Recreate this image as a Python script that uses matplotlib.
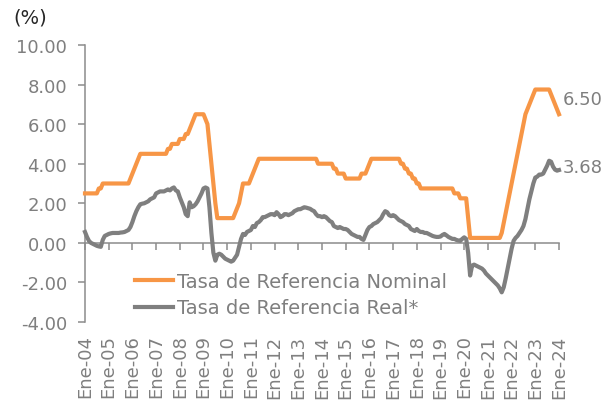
import matplotlib
matplotlib.use("Agg")
import matplotlib.pyplot as plt
import numpy as np

plt.rcParams['font.family'] = ['DejaVu Sans']

# Monthly values, Jan-2004 .. Jan-2024
nominal = [
    2.50, 2.50, 2.50, 2.50, 2.50, 2.50, 2.50, 2.75, 2.75, 3.00, 3.00, 3.00,  # 2004
    3.00, 3.00, 3.00, 3.00, 3.00, 3.00, 3.00, 3.00, 3.00, 3.00, 3.00, 3.25,  # 2005
    3.50, 3.75, 4.00, 4.25, 4.50, 4.50, 4.50, 4.50, 4.50, 4.50, 4.50, 4.50,  # 2006
    4.50, 4.50, 4.50, 4.50, 4.50, 4.50, 4.75, 4.75, 5.00, 5.00, 5.00, 5.00,  # 2007
    5.25, 5.25, 5.25, 5.50, 5.50, 5.75, 6.00, 6.25, 6.50, 6.50, 6.50, 6.50,  # 2008
    6.50, 6.25, 6.00, 5.00, 4.00, 3.00, 2.00, 1.25, 1.25, 1.25, 1.25, 1.25,  # 2009
    1.25, 1.25, 1.25, 1.25, 1.50, 1.75, 2.00, 2.50, 3.00, 3.00, 3.00, 3.00,  # 2010
    3.25, 3.50, 3.75, 4.00, 4.25, 4.25, 4.25, 4.25, 4.25, 4.25, 4.25, 4.25,  # 2011
    4.25, 4.25, 4.25, 4.25, 4.25, 4.25, 4.25, 4.25, 4.25, 4.25, 4.25, 4.25,  # 2012
    4.25, 4.25, 4.25, 4.25, 4.25, 4.25, 4.25, 4.25, 4.25, 4.25, 4.00, 4.00,  # 2013
    4.00, 4.00, 4.00, 4.00, 4.00, 4.00, 3.75, 3.75, 3.50, 3.50, 3.50, 3.50,  # 2014
    3.25, 3.25, 3.25, 3.25, 3.25, 3.25, 3.25, 3.25, 3.50, 3.50, 3.50, 3.75,  # 2015
    4.00, 4.25, 4.25, 4.25, 4.25, 4.25, 4.25, 4.25, 4.25, 4.25, 4.25, 4.25,  # 2016
    4.25, 4.25, 4.25, 4.25, 4.00, 4.00, 3.75, 3.75, 3.50, 3.50, 3.25, 3.25,  # 2017
    3.00, 3.00, 2.75, 2.75, 2.75, 2.75, 2.75, 2.75, 2.75, 2.75, 2.75, 2.75,  # 2018
    2.75, 2.75, 2.75, 2.75, 2.75, 2.75, 2.75, 2.50, 2.50, 2.50, 2.25, 2.25,  # 2019
    2.25, 2.25, 1.25, 0.25, 0.25, 0.25, 0.25, 0.25, 0.25, 0.25, 0.25, 0.25,  # 2020
    0.25, 0.25, 0.25, 0.25, 0.25, 0.25, 0.25, 0.50, 1.00, 1.50, 2.00, 2.50,  # 2021
    3.00, 3.50, 4.00, 4.50, 5.00, 5.50, 6.00, 6.50, 6.75, 7.00, 7.25, 7.50,  # 2022
    7.75, 7.75, 7.75, 7.75, 7.75, 7.75, 7.75, 7.75, 7.50, 7.25, 7.00, 6.75,  # 2023
    6.50,                                                                      # 2024
]

real = [
    0.55, 0.30, 0.10, 0.00, -0.05, -0.10, -0.15, -0.18, -0.20, 0.15, 0.35, 0.40,  # 2004
    0.45, 0.48, 0.50, 0.50, 0.50, 0.50, 0.52, 0.53, 0.55, 0.60, 0.65, 0.80,      # 2005
    1.05, 1.35, 1.60, 1.80, 1.95, 1.98, 2.00, 2.05, 2.10, 2.20, 2.25, 2.30,      # 2006
    2.50, 2.55, 2.60, 2.60, 2.60, 2.65, 2.70, 2.65, 2.75, 2.80, 2.65, 2.60,      # 2007
    2.30, 2.05, 1.80, 1.45, 1.35, 2.05, 1.80, 1.85, 1.95, 2.10, 2.30, 2.50,      # 2008
    2.75, 2.80, 2.75, 1.80, 0.50, -0.50, -0.90, -0.60, -0.55, -0.60, -0.70, -0.80,  # 2009
    -0.85, -0.90, -0.95, -0.90, -0.75, -0.60, -0.20, 0.20, 0.45, 0.40, 0.55, 0.60,  # 2010
    0.65, 0.85, 0.80, 1.00, 1.05, 1.15, 1.30, 1.30, 1.35, 1.40, 1.45, 1.45,      # 2011
    1.40, 1.55, 1.45, 1.30, 1.35, 1.45, 1.45, 1.40, 1.45, 1.50, 1.60, 1.65,      # 2012
    1.70, 1.70, 1.75, 1.80, 1.78, 1.75, 1.72, 1.65, 1.60, 1.45, 1.35, 1.35,      # 2013
    1.30, 1.35, 1.30, 1.20, 1.10, 1.05, 0.85, 0.80, 0.75, 0.80, 0.75, 0.70,      # 2014
    0.70, 0.65, 0.55, 0.45, 0.40, 0.35, 0.30, 0.30, 0.20, 0.15, 0.40, 0.65,      # 2015
    0.80, 0.85, 0.95, 1.00, 1.05, 1.15, 1.25, 1.45, 1.60, 1.55, 1.40, 1.35,      # 2016
    1.40, 1.35, 1.25, 1.15, 1.10, 1.05, 0.95, 0.90, 0.85, 0.70, 0.65, 0.60,      # 2017
    0.70, 0.60, 0.55, 0.55, 0.50, 0.50, 0.45, 0.40, 0.35, 0.32, 0.30, 0.30,      # 2018
    0.32, 0.40, 0.45, 0.38, 0.30, 0.25, 0.20, 0.20, 0.15, 0.12, 0.10, 0.20,      # 2019
    0.28, 0.20, -0.50, -1.65, -1.15, -1.10, -1.15, -1.20, -1.25, -1.30, -1.40, -1.55,  # 2020
    -1.65, -1.75, -1.85, -1.95, -2.05, -2.15, -2.30, -2.50, -2.25, -1.80, -1.30, -0.80,  # 2021
    -0.30, 0.10, 0.25, 0.35, 0.50, 0.65, 0.85, 1.20, 1.70, 2.20, 2.60, 3.00,     # 2022
    3.30, 3.35, 3.45, 3.45, 3.50, 3.70, 3.90, 4.15, 4.10, 3.85, 3.70, 3.65,      # 2023
    3.68,                                                                         # 2024
]

tick_labels = ["Ene-%02d" % y for y in range(4, 25)]
legend_labels = ["Tasa de Referencia Nominal", "Tasa de Referencia Real*"]

ORANGE = "#F79646"
GRAY = "#7F7F7F"
AXIS = "#8C8C8C"
TXT = "#7F7F7F"

months = np.arange(len(nominal))

fig = plt.figure(figsize=(6.10, 4.02), dpi=100)
ax = fig.add_axes([85 / 610, 1 - 323 / 402, (559 - 85) / 610, (323 - 46) / 402])

l1, = ax.plot(months, nominal, color=ORANGE, lw=3.0, solid_joinstyle='round', clip_on=False, zorder=3)
l2, = ax.plot(months, real, color=GRAY, lw=3.0, solid_joinstyle='round', clip_on=False, zorder=3)

ax.set_xlim(0, len(nominal) - 1)
ax.set_ylim(-4, 10)
ax.set_yticks(np.arange(-4, 10.01, 2))
ax.set_yticklabels(["%.2f" % v for v in np.arange(-4, 10.01, 2)])

for s in ["top", "right"]:
    ax.spines[s].set_visible(False)
ax.spines["left"].set_color(AXIS)
ax.spines["left"].set_linewidth(1.1)
ax.spines["bottom"].set_position(("data", 0))
ax.spines["bottom"].set_color(AXIS)
ax.spines["bottom"].set_linewidth(1.1)

ax.tick_params(axis="y", direction="out", length=5, width=1.1, color=AXIS,
               labelcolor=TXT, labelsize=13, pad=8)
ax.set_xticks(np.arange(0, len(nominal), 12))
ax.tick_params(axis="x", direction="out", length=5, width=1.1, color=AXIS,
               labelbottom=False)

sec = ax.secondary_xaxis("bottom")
sec.set_xticks(np.arange(0, len(nominal), 12))
sec.set_xticklabels(tick_labels, rotation=90)
sec.spines["bottom"].set_visible(False)
sec.tick_params(axis="x", length=0, pad=9, labelcolor=TXT, labelsize=13)

ax.annotate("%.2f" % nominal[-1], xy=(months[-1], nominal[-1]), xytext=(3, 11),
            textcoords="offset points", color=TXT, fontsize=13, va="center", ha="left",
            annotation_clip=False)
ax.annotate("%.2f" % real[-1], xy=(months[-1], real[-1]), xytext=(3, 2),
            textcoords="offset points", color=TXT, fontsize=13, va="center", ha="left",
            annotation_clip=False)

leg = ax.legend([l1, l2], legend_labels, loc="center left",
                bbox_to_anchor=(50 / 474, (323 - 295.5) / 277), frameon=False,
                fontsize=14, handlelength=1.95, handletextpad=0.2, labelspacing=0.4,
                borderpad=0, borderaxespad=0)
for t in leg.get_texts():
    t.set_color(TXT)

fig.text(13 / 610, 1 - 18 / 402, "(%)", fontsize=14, color="#262626", va="center", ha="left")

fig.savefig("out.png", dpi=100)
